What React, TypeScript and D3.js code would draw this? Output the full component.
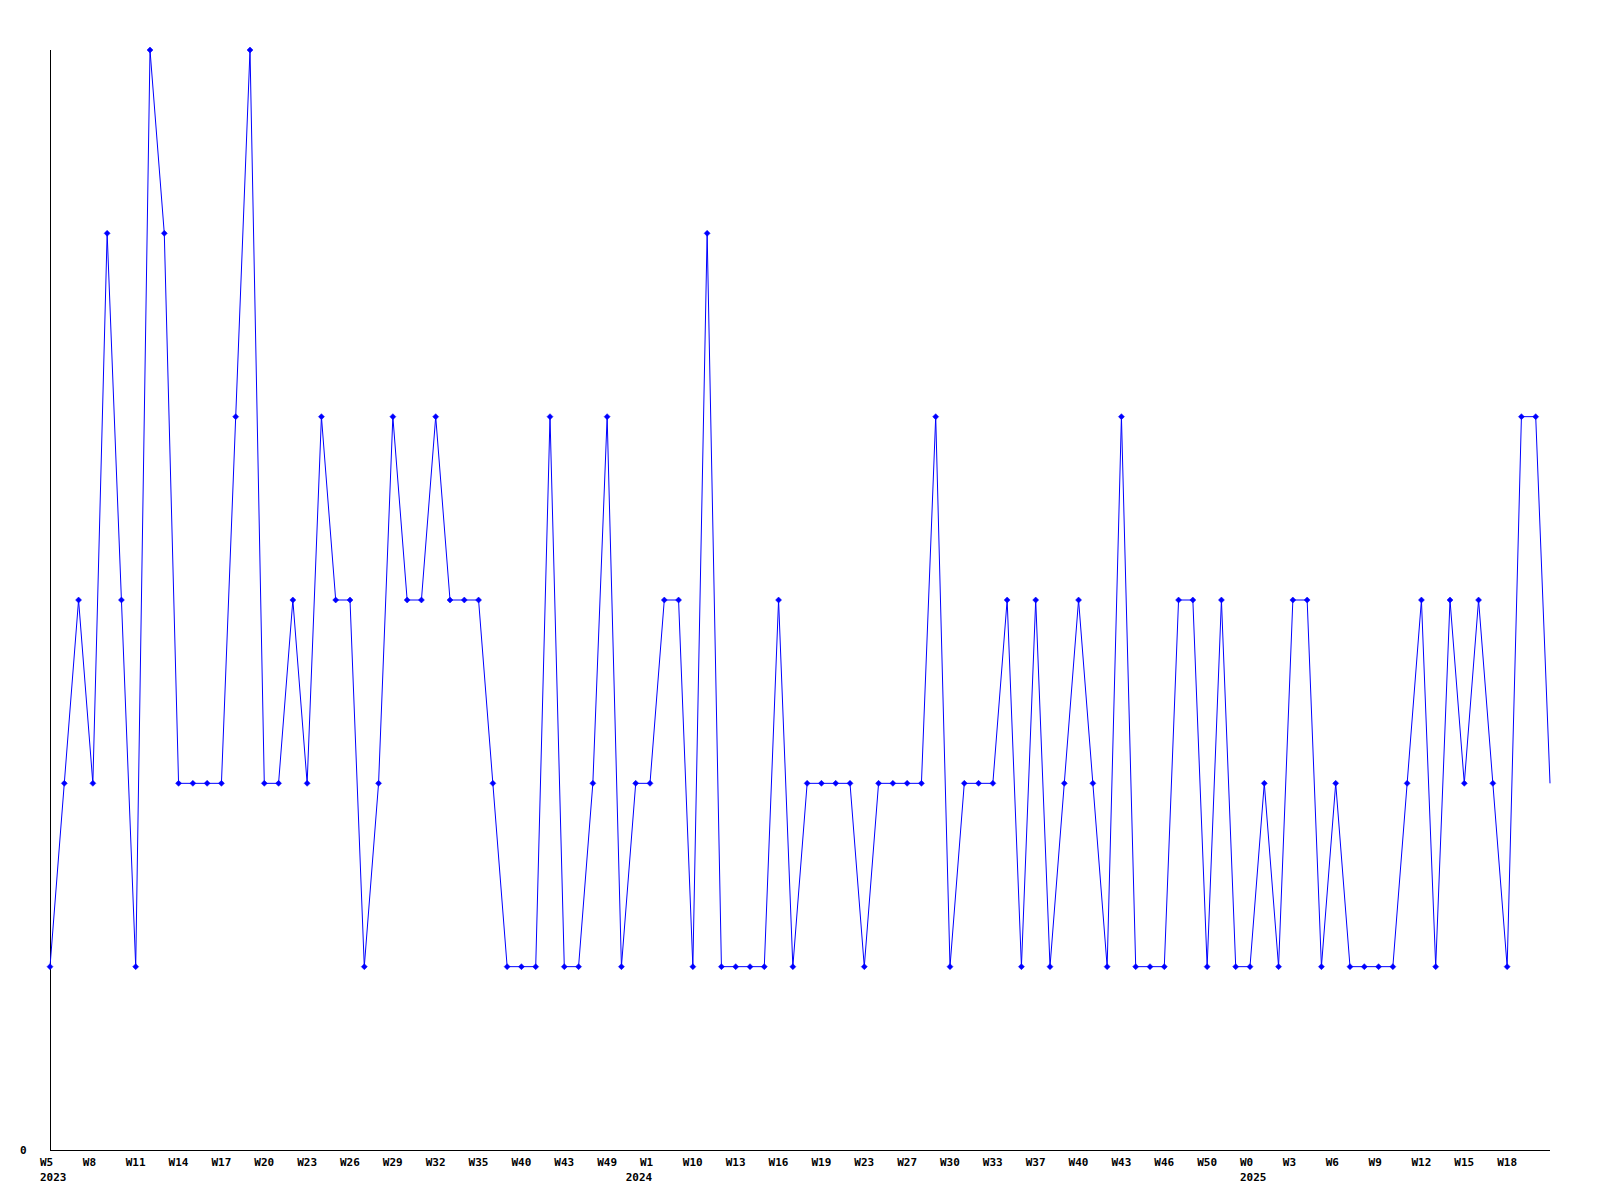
import React from "react";
import * as d3 from "d3";

// weekly values (106 points)
const values: number[] = [
  1, 2, 3, 2, 5, 3, 1, 6, 5, 2,
  2, 2, 2, 4, 6, 2, 2, 3, 2, 4,
  3, 3, 1, 2, 4, 3, 3, 4, 3, 3,
  3, 2, 1, 1, 1, 4, 1, 1, 2, 4,
  1, 2, 2, 3, 3, 1, 5, 1, 1, 1,
  1, 3, 1, 2, 2, 2, 2, 1, 2, 2,
  2, 2, 4, 1, 2, 2, 2, 3, 1, 3,
  1, 2, 3, 2, 1, 4, 1, 1, 1, 3,
  3, 1, 3, 1, 1, 2, 1, 3, 3, 1,
  2, 1, 1, 1, 1, 2, 3, 1, 3, 2,
  3, 2, 1, 4, 4, 2,
];

// x tick labels, one every 3 points
const tickLabels: string[] = [
  "W5", "W8", "W11", "W14", "W17", "W20", "W23", "W26", "W29", "W32",
  "W35", "W40", "W43", "W49", "W1", "W10", "W13", "W16", "W19", "W23",
  "W27", "W30", "W33", "W37", "W40", "W43", "W46", "W50", "W0", "W3",
  "W6", "W9", "W12", "W15", "W18",
];
const tickStep = 3;

// year labels at the first point of each year
const yearLabels: string[] = ["2023", "2024", "2025"];
const yearStartIndex: number[] = [0, 41, 84];

const yTickValues: number[] = [0];
const yMax = 6;

export default function App() {
  const W = 1600;
  const H = 1200;
  const left = 50;
  const right = 1550;
  const top = 50;
  const bottom = 1150;

  const x = d3.scaleLinear().domain([0, values.length - 1]).range([left, right]);
  const y = d3.scaleLinear().domain([0, yMax]).range([bottom, top]);

  const line = d3
    .line<number>()
    .x((_, i) => x(i))
    .y((d) => y(d));

  const font = "'DejaVu Sans Mono', monospace";
  const diamond = (cx: number, cy: number, r: number) =>
    `M${cx},${cy - r}L${cx + r},${cy}L${cx},${cy + r}L${cx - r},${cy}Z`;

  return (
    <svg
      width={W}
      height={H}
      style={{ position: "absolute", left: 0, top: 0, background: "#fff" }}
    >
      <rect x={0} y={0} width={W} height={H} fill="#fff" />
      {/* axes */}
      <line x1={left + 0.5} x2={left + 0.5} y1={top} y2={bottom + 1} stroke="#000" strokeWidth={1} shapeRendering="crispEdges" />
      <line x1={left} x2={right} y1={bottom + 0.5} y2={bottom + 0.5} stroke="#000" strokeWidth={1} shapeRendering="crispEdges" />

      {/* y tick labels */}
      {yTickValues.map((v) => (
        <text key={"y" + v} x={20} y={y(v) + 4} fontFamily={font} fontWeight="bold" fontSize={11} fill="#000">
          {v}
        </text>
      ))}

      {/* x tick labels */}
      {tickLabels.map((t, k) => (
        <text key={"t" + k} x={x(k * tickStep) - 10} y={1166} fontFamily={font} fontWeight="bold" fontSize={11} fill="#000">
          {t}
        </text>
      ))}
      {yearLabels.map((t, k) => (
        <text key={"yr" + k} x={x(yearStartIndex[k]) - 10} y={1181} fontFamily={font} fontWeight="bold" fontSize={11} fill="#000">
          {t}
        </text>
      ))}

      {/* series */}
      <path d={line(values) || ""} fill="none" stroke="#0000ff" strokeWidth={1} />
      {values.map((v, i) =>
        i < values.length - 1 ? (
          <path key={"m" + i} d={diamond(x(i), y(v), 3)} fill="#0000ff" stroke="#0000ff" strokeWidth={0.5} />
        ) : null
      )}
    </svg>
  );
}
